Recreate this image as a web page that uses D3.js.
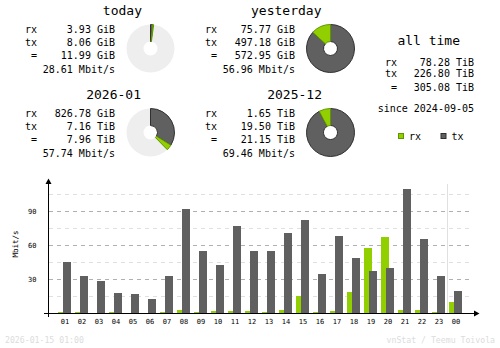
<!DOCTYPE html>
<html>
<head>
<meta charset="utf-8">
<script src="https://cdn.jsdelivr.net/npm/d3@7"></script>
<style>
  html, body { margin: 0; padding: 0; background: #fff; }
  svg { display: block; }
  text { font-family: "DejaVu Sans Mono", monospace; fill: #000; }
</style>
</head>
<body>
<svg id="chart" width="500" height="348"></svg>
<script>
// ---- summary data ----
const periodTitles = ["today", "yesterday", "2026-01", "2025-12"];
const periodRx     = ["3.93 GiB", "75.77 GiB", "826.78 GiB", "1.65 TiB"];
const periodTx     = ["8.06 GiB", "497.18 GiB", "7.16 TiB", "19.50 TiB"];
const periodTotal  = ["11.99 GiB", "572.95 GiB", "7.96 TiB", "21.15 TiB"];
const periodRate   = ["28.61 Mbit/s", "56.96 Mbit/s", "57.74 Mbit/s", "69.46 Mbit/s"];
// index of the period each donut is scaled against (itself when complete)
const periodRef    = [1, 1, 3, 3];

const allTimeRx    = "78.28 TiB";
const allTimeTx    = "226.80 TiB";
const allTimeTotal = "305.08 TiB";
const sinceDate    = "2024-09-05";

// ---- hourly average rates (Mbit/s) ----
const hours  = ["01","02","03","04","05","06","07","08","09","10","11","12",
                "13","14","15","16","17","18","19","20","21","22","23","00"];
const rxRate = [0.9, 0.9, 0.2, 0.9, 0.2, 0.2, 0.9, 2.6, 0.9, 1.8, 1.8, 1.8,
                0.9, 2.6, 15.0, 0.9, 1.8, 18.5, 57.4, 67.1, 2.6, 2.6, 0.9, 9.7];
const txRate = [45.0, 32.6, 28.2, 17.6, 16.8, 12.4, 32.6, 91.8, 54.7, 42.4, 76.8, 54.7,
                54.7, 70.6, 82.0, 34.4, 67.9, 48.5, 37.0, 39.7, 109.4, 65.3, 32.6, 19.4];
const yTicks = [15, 30, 45, 60, 75, 90, 105];
const currentHour = "00";

const footerLeft  = "2026-01-15 01:00";
const footerRight = "vnStat / Teemu Toivola";

// ---- colours ----
const cRx = "#92cf00", cRxD = "#5f9600";
const cTx = "#606060", cTxD = "#303030";
const cRest = "#eeeeee";

const svg = d3.select("#chart");
svg.append("rect").attr("width", 500).attr("height", 348).attr("fill", "#fff");

function toGiB(s) {
  const [v, u] = s.split(" ");
  return +v * (u === "TiB" ? 1024 : 1);
}

// ---- summary blocks ----
const blockPos = [
  { dx: 0,   dy: 0,  titleX: 142 },
  { dx: 180, dy: 0,  titleX: 321.5 },
  { dx: 0,   dy: 84, titleX: 141 },
  { dx: 180, dy: 84, titleX: 322 }
];
const arc = d3.arc().innerRadius(7).outerRadius(24);

periodTitles.forEach((title, i) => {
  const p = blockPos[i];
  const g = svg.append("g").attr("transform", `translate(${p.dx},${p.dy})`);
  g.append("text").attr("x", p.titleX - p.dx).attr("y", 14.5)
    .attr("text-anchor", "end").attr("font-size", 13).text(title);

  const rows = [["rx", periodRx[i], 33], ["tx", periodTx[i], 45.5], ["=", periodTotal[i], 58.5]];
  rows.forEach(([lab, val, y]) => {
    g.append("text").attr("x", 37).attr("y", y).attr("text-anchor", "end")
      .attr("font-size", 10).text(lab);
    g.append("text").attr("x", 115).attr("y", y).attr("text-anchor", "end")
      .attr("font-size", 10).text(val);
  });
  g.append("text").attr("x", 115).attr("y", 72.5).attr("text-anchor", "end")
    .attr("font-size", 10).text(periodRate[i]);

  // donut: tx then rx, clockwise from the top, scaled against the reference period
  const ref = Math.max(toGiB(periodTotal[periodRef[i]]), toGiB(periodTotal[i]));
  const tx = toGiB(periodTx[i]), rx = toGiB(periodRx[i]);
  const a = d3.scaleLinear().domain([0, ref]).range([0, 2 * Math.PI]);
  const pg = g.append("g").attr("transform", "translate(150.5,48.5)");
  pg.append("path").attr("d", arc({ startAngle: 0, endAngle: 2 * Math.PI }))
    .attr("fill", cRest);
  pg.append("path").attr("d", arc({ startAngle: 0, endAngle: a(tx) }))
    .attr("fill", cTx).attr("stroke", cTxD).attr("stroke-width", 1);
  pg.append("path").attr("d", arc({ startAngle: a(tx), endAngle: a(tx + rx) }))
    .attr("fill", cRx).attr("stroke", cRxD).attr("stroke-width", 1);
});

// ---- all time block ----
svg.append("text").attr("x", 428.7).attr("y", 45).attr("text-anchor", "middle")
  .attr("font-size", 13).text("all time");
[["rx", allTimeRx, 66], ["tx", allTimeTx, 76.7], ["=", allTimeTotal, 90.8]].forEach(([lab, val, y]) => {
  svg.append("text").attr("x", 397).attr("y", y).attr("text-anchor", "end")
    .attr("font-size", 10).text(lab);
  svg.append("text").attr("x", 474).attr("y", y).attr("text-anchor", "end")
    .attr("font-size", 10).text(val);
});
svg.append("text").attr("x", 474).attr("y", 112).attr("text-anchor", "end")
  .attr("font-size", 10).text("since " + sinceDate);

// legend
[["rx", cRx, cRxD, 398.5], ["tx", cTx, cTxD, 441]].forEach(([lab, c, cd, x]) => {
  svg.append("rect").attr("x", x).attr("y", 133.5).attr("width", 5).attr("height", 5)
    .attr("fill", c).attr("stroke", cd).attr("stroke-width", 1);
  svg.append("text").attr("x", x + 10.5).attr("y", 139.5).attr("font-size", 10).text(lab);
});

// ---- hourly bar chart ----
const x = d3.scaleBand().domain(hours).range([56.5, 464.5]).padding(0);
const y = d3.scaleLinear().domain([0, 105]).range([313, 194]);

// current hour separator
svg.append("line")
  .attr("x1", x(currentHour)).attr("x2", x(currentHour))
  .attr("y1", 184).attr("y2", 313)
  .attr("stroke", "#e0e0e0").attr("stroke-width", 1);

// grid
const grid = svg.append("g");
yTicks.forEach(v => {
  const major = v % 30 === 0;
  grid.append("line")
    .attr("x1", 49).attr("x2", 473)
    .attr("y1", Math.round(y(v)) + 0.5).attr("y2", Math.round(y(v)) + 0.5)
    .attr("stroke", major ? "#b0b0b0" : "#e0e0e0")
    .attr("stroke-width", 1)
    .attr("stroke-dasharray", "4,4");
});

// bars: rx behind, tx offset to the right
const bars = svg.append("g").attr("shape-rendering", "crispEdges");
bars.selectAll("rect.rx").data(hours).join("rect")
  .attr("class", "rx")
  .attr("x", d => x(d) + 1.5)
  .attr("width", 8)
  .attr("y", (d, i) => y(rxRate[i]))
  .attr("height", (d, i) => y(0) - y(rxRate[i]))
  .attr("fill", cRx);
bars.selectAll("rect.tx").data(hours).join("rect")
  .attr("class", "tx")
  .attr("x", d => x(d) + 6.5)
  .attr("width", 8)
  .attr("y", (d, i) => y(txRate[i]))
  .attr("height", (d, i) => y(0) - y(txRate[i]))
  .attr("fill", cTx);

// axes
const axisG = svg.append("g");
axisG.append("line").attr("x1", 48.5).attr("x2", 48.5).attr("y1", 182).attr("y2", 317)
  .attr("stroke", "#000").attr("stroke-width", 1);
axisG.append("path").attr("d", "M48.5,178.5 L45.5,184 L51.5,184 Z").attr("fill", "#000");
axisG.append("line").attr("x1", 44).attr("x2", 476).attr("y1", 313.5).attr("y2", 313.5)
  .attr("stroke", "#000").attr("stroke-width", 1);
axisG.append("path").attr("d", "M479.5,313.5 L474,310.5 L474,316.5 Z").attr("fill", "#000");

// tick labels
yTicks.filter(v => v % 30 === 0).forEach(v => {
  svg.append("text").attr("x", 36.5).attr("y", y(v) + 3.3)
    .attr("text-anchor", "end").attr("font-size", 7).text(v);
});
svg.selectAll("text.hour").data(hours).join("text")
  .attr("class", "hour")
  .attr("x", d => x(d) + x.bandwidth() / 2)
  .attr("y", 323.5)
  .attr("text-anchor", "middle")
  .attr("font-size", 7)
  .text(d => d);

svg.append("text").attr("transform", "translate(18,244) rotate(-90)")
  .attr("text-anchor", "middle").attr("font-size", 7.5).text("Mbit/s");

// footer
svg.append("text").attr("x", 5).attr("y", 343).attr("font-size", 8.2)
  .style("fill", "#dcdcdc").text(footerLeft);
svg.append("text").attr("x", 495).attr("y", 343).attr("text-anchor", "end")
  .attr("font-size", 8.2).style("fill", "#dcdcdc").text(footerRight);
</script>
</body>
</html>
